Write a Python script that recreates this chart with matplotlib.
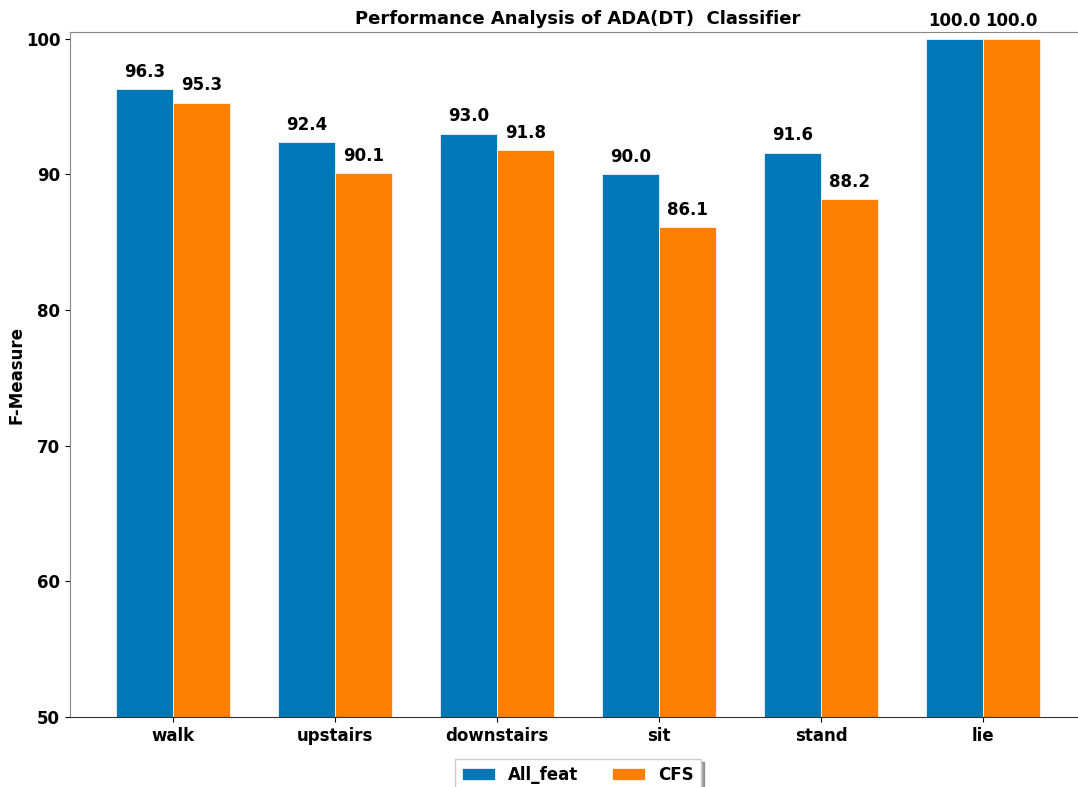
import matplotlib

matplotlib.use("Agg")
import matplotlib.pyplot as plt  # noqa: E402
import numpy as np  # noqa: E402

activities = ["walk", "upstairs", "downstairs", "sit", "stand", "lie"]
all_feat = [96.3, 92.4, 93.0, 90.0, 91.6, 100.0]
cfs = [95.3, 90.1, 91.8, 86.1, 88.2, 100.0]

plt.rcParams["font.family"] = "DejaVu Sans"
plt.rcParams["font.weight"] = "bold"
plt.rcParams["font.size"] = 12

fig = plt.figure(figsize=(10.78, 7.87), dpi=100)
# axes run a little past the right edge, like the original crop
ax = fig.add_axes([0.0649, 0.0889, 0.9425, 0.8704])

x = np.arange(len(activities))
width = 0.35
b1 = ax.bar(x - width / 2, all_feat, width, label="All_feat", color="#0077b6",
            edgecolor="white", linewidth=0.5)
b2 = ax.bar(x + width / 2, cfs, width, label="CFS", color="#ff7f00",
            edgecolor="white", linewidth=0.5)

for bars in (b1, b2):
    for rect in bars:
        h = rect.get_height()
        ax.annotate(f"{h:.1f}", xy=(rect.get_x() + rect.get_width() / 2, h),
                    xytext=(0, 6), textcoords="offset points",
                    ha="center", va="bottom", fontweight="bold", fontsize=12)

ax.set_ylim(50, 100.5)
ax.set_xticks(x)
ax.set_xticklabels(activities, fontweight="bold")
ax.set_ylabel("F-Measure", fontweight="bold", labelpad=0)
ax.set_title("Performance Analysis of ADA(DT)  Classifier", fontweight="bold", fontsize=13)
for side in ("left", "top"):
    ax.spines[side].set_color("#888888")
ax.spines["bottom"].set_color("#333333")

ax.legend(loc="upper center", bbox_to_anchor=(0.5, -0.049), ncol=2,
          shadow=True, fancybox=False, edgecolor="#cccccc")

fig.savefig("out.png", dpi=100)
